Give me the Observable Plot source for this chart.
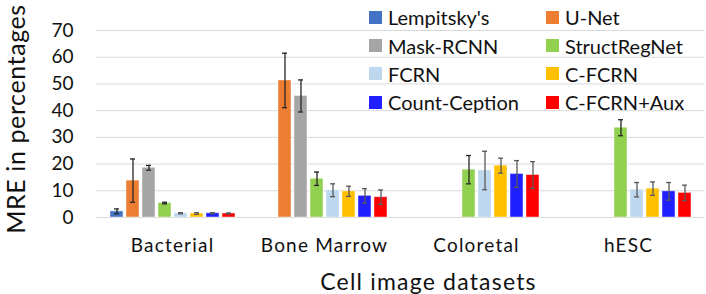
<!DOCTYPE html>
<html>
<head>
<meta charset="utf-8">
<script src="https://cdn.jsdelivr.net/npm/d3@7"></script>
<script src="https://cdn.jsdelivr.net/npm/@observablehq/plot@0.6"></script>
<style>
  html, body { margin: 0; padding: 0; background: #fff; }
  #wrap { position: relative; width: 706px; height: 294px; font-family: Lato, "Open Sans", sans-serif; color: #111; }
  #legend { position: absolute; left: 0; top: 0; width: 706px; height: 120px; pointer-events: none; }
  .item { position: absolute; display: flex; align-items: center; font-size: 20px; letter-spacing: 0px; line-height: 1; white-space: nowrap; }
  .sw { width: 13px; height: 13px; margin-right: 6px; flex: none; }
</style>
</head>
<body>
<div id="wrap"><div id="chart"></div><div id="legend"></div></div>
<script>
const datasets = ["Bacterial", "Bone Marrow", "Coloretal", "hESC"];
const methods = ["Lempitsky's", "U-Net", "Mask-RCNN", "StructRegNet", "FCRN", "C-FCRN", "Count-Ception", "C-FCRN+Aux"];
const colors = ["#4472C4", "#ED7D31", "#A5A5A5", "#92D050", "#BDD7EE", "#FFC000", "#1F1FFF", "#FF0000"];
const errColors = ["#262626", "#262626", "#262626", "#262626", "#595959", "#595959", "#595959", "#595959"];

// MRE (%) per dataset, in method order (null = not reported)
const bacterialMRE   = [2.3, 13.8, 18.6, 5.4, 1.6, 1.5, 1.6, 1.5];
const boneMarrowMRE  = [null, 51.3, 45.5, 14.5, 10.2, 9.8, 8.1, 7.6];
const coloretalMRE   = [null, null, null, 17.9, 17.6, 19.4, 16.3, 15.9];
const hescMRE        = [null, null, null, 33.6, 10.4, 10.8, 9.8, 9.2];

// standard deviations
const bacterialSD    = [0.9, 8.1, 0.9, 0.3, 0.2, 0.3, 0.2, 0.2];
const boneMarrowSD   = [null, 10.2, 6.0, 2.5, 2.4, 1.9, 2.7, 2.7];
const coloretalSD    = [null, null, null, 5.3, 7.2, 2.8, 5.0, 5.0];
const hescSD         = [null, null, null, 3.0, 2.7, 2.5, 3.3, 2.9];

const yTicks = [0, 10, 20, 30, 40, 50, 60, 70];

const valueSets = [bacterialMRE, boneMarrowMRE, coloretalMRE, hescMRE];
const sdSets = [bacterialSD, boneMarrowSD, coloretalSD, hescSD];

const rows = [];
datasets.forEach((ds, i) => {
  methods.forEach((m, j) => {
    const v = valueSets[i][j];
    if (v == null) return;
    const sd = sdSets[i][j];
    rows.push({dataset: ds, method: m, value: v, lo: v - sd, hi: v + sd, ec: errColors[j]});
  });
});

const chart = Plot.plot({
  width: 706,
  height: 294,
  marginLeft: 95,
  marginRight: 1,
  marginTop: 30,
  marginBottom: 77,
  style: {fontFamily: "Lato, 'Open Sans', sans-serif", color: "#111", background: "transparent"},
  fx: {domain: datasets, padding: 0},
  x: {domain: methods, paddingInner: 0.2, paddingOuter: 0.8, axis: null},
  y: {domain: [0, 70]},
  color: {domain: methods, range: colors},
  marks: [
    Plot.gridY(yTicks, {stroke: "#D9D9D9", strokeOpacity: 1, strokeWidth: 1}),
    Plot.barY(rows, {fx: "dataset", x: "method", y: "value", fill: "method", stroke: "#fff", strokeOpacity: 0.45, strokeWidth: 1}),
    Plot.ruleX(rows, {fx: "dataset", x: "method", y1: "lo", y2: "hi", stroke: "ec", strokeWidth: 1.3}),
    Plot.tickY(rows, {fx: "dataset", x: "method", y: "lo", stroke: "ec", strokeWidth: 1.3, insetLeft: 4, insetRight: 4}),
    Plot.tickY(rows, {fx: "dataset", x: "method", y: "hi", stroke: "ec", strokeWidth: 1.3, insetLeft: 4, insetRight: 4}),
    Plot.axisY(yTicks, {tickSize: 0, tickPadding: 23, fontSize: 19, label: "MRE in percentages", labelAnchor: "center", labelArrow: "none", labelOffset: 89}),
    Plot.axisFx({anchor: "bottom", tickSize: 0, tickPadding: 21, fontSize: 19, label: "Cell image datasets", labelAnchor: "center", labelArrow: "none", labelOffset: 72})
  ]
});

// axis title sizes and spacing
chart.querySelectorAll("g[aria-label='y-axis label'] text").forEach(t => { t.setAttribute("font-size", 25); t.setAttribute("letter-spacing", "0.6"); t.setAttribute("dx", "5"); });
chart.querySelectorAll("g[aria-label='fx-axis label'] text").forEach(t => { t.setAttribute("font-size", 23); t.setAttribute("letter-spacing", "1.2"); t.setAttribute("dx", "28"); });
chart.querySelectorAll("g[aria-label='fx-axis tick label'] text").forEach(t => t.setAttribute("letter-spacing", "1.2"));
document.getElementById("chart").appendChild(chart);

// legend (two columns, four rows)
const legend = document.getElementById("legend");
const colX = [369, 546];
const rowY = [17, 45.5, 73.5, 102];
methods.forEach((m, i) => {
  const item = document.createElement("div");
  item.className = "item";
  item.style.left = colX[i % 2] + "px";
  item.style.top = (rowY[Math.floor(i / 2)] - 10) + "px";
  item.style.height = "20px";
  const sw = document.createElement("span");
  sw.className = "sw";
  sw.style.background = colors[i];
  item.appendChild(sw);
  const t = document.createElement("span");
  t.textContent = m;
  item.appendChild(t);
  legend.appendChild(item);
});
</script>
</body>
</html>
